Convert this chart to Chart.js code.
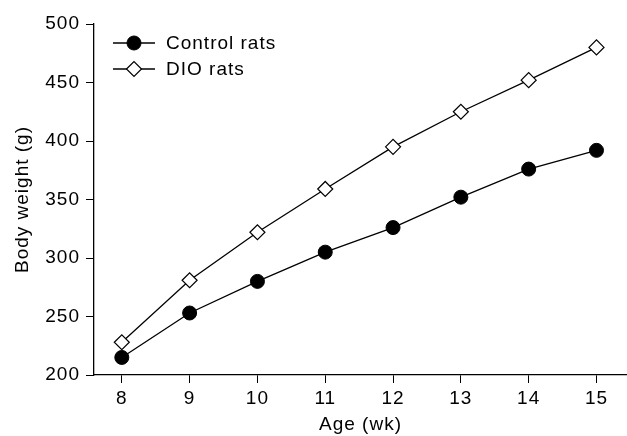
<!DOCTYPE html>
<html>
<head>
<meta charset="utf-8">
<script src="https://cdn.jsdelivr.net/npm/chart.js@4"></script>
<style>
  html, body { margin: 0; padding: 0; background: #fff; }
  #wrap { width: 627px; height: 436px; }
</style>
</head>
<body>
<div id="wrap"><canvas id="chart" width="627" height="436"></canvas></div>
<script>
// data
const ages = [8, 9, 10, 11, 12, 13, 14, 15];
const controlWeights = [215, 253, 280, 305, 326, 352, 376, 392];
const dioWeights = [228, 281, 322, 359, 395, 425, 452, 480];
const yTicks = [200, 250, 300, 350, 400, 450, 500];

const FONT = 'Liberation Sans, Arial, sans-serif';
const FS = 19;
const SPACING = '1px';

// the figure's lettering is a bit looser than Arial
const looseText = {
    id: 'looseText',
    beforeUpdate(chart) { chart.ctx.letterSpacing = SPACING; },
    beforeDraw(chart) { chart.ctx.letterSpacing = SPACING; }
};

// legend drawn inside the plot, top left
const insideLegend = {
    id: 'insideLegend',
    afterDraw(chart) {
        const ctx = chart.ctx;
        const x0 = chart.chartArea.left + 19;
        let y = chart.chartArea.top + 19;
        chart.data.datasets.forEach(ds => {
            ctx.save();
            ctx.strokeStyle = '#000';
            ctx.lineWidth = 1.3;
            ctx.beginPath();
            ctx.moveTo(x0, y);
            ctx.lineTo(x0 + 42, y);
            ctx.stroke();
            ctx.fillStyle = ds.pointBackgroundColor;
            ctx.lineWidth = ds.pointBorderWidth;
            Chart.helpers.drawPoint(ctx, {
                pointStyle: ds.pointStyle,
                radius: ds.pointRadius,
                borderWidth: ds.pointBorderWidth
            }, x0 + 21, y);
            ctx.fillStyle = '#000';
            ctx.font = FS + 'px ' + FONT;
            ctx.letterSpacing = SPACING;
            ctx.textBaseline = 'middle';
            ctx.fillText(ds.label, x0 + 53, y + 1);
            ctx.restore();
            y += 26;
        });
    }
};

new Chart(document.getElementById('chart'), {
    type: 'line',
    data: {
        datasets: [
            {
                label: 'Control rats',
                data: ages.map((a, i) => ({ x: a, y: controlWeights[i] })),
                borderColor: '#000',
                borderWidth: 1.3,
                pointStyle: 'circle',
                pointRadius: 7,
                pointBackgroundColor: '#000',
                pointBorderColor: '#000',
                pointBorderWidth: 1
            },
            {
                label: 'DIO rats',
                data: ages.map((a, i) => ({ x: a, y: dioWeights[i] })),
                borderColor: '#000',
                borderWidth: 1.3,
                pointStyle: 'rectRot',
                pointRadius: 7.5,
                pointBackgroundColor: '#fff',
                pointBorderColor: '#000',
                pointBorderWidth: 1.2
            }
        ]
    },
    options: {
        responsive: false,
        animation: false,
        layout: { autoPadding: false, padding: { top: 24, right: 0, left: 0, bottom: 0 } },
        plugins: { legend: { display: false }, tooltip: { enabled: false } },
        scales: {
            x: {
                type: 'linear',
                min: 7.59,
                max: 15.45,
                afterBuildTicks: s => { s.ticks = ages.map(v => ({ value: v })); },
                afterFit: s => { s.height = 61; s.paddingLeft = 0; s.paddingRight = 0; },
                grid: { drawOnChartArea: false, drawTicks: true, tickLength: 8, color: '#000' },
                border: { color: '#000', width: 1.3 },
                ticks: { color: '#000', font: { family: FONT, size: FS }, padding: 4, maxRotation: 0 },
                title: { display: true, text: 'Age (wk)', color: '#000', font: { family: FONT, size: FS }, padding: { top: 0, bottom: 0 } }
            },
            y: {
                min: 200,
                max: 500,
                afterBuildTicks: s => { s.ticks = yTicks.map(v => ({ value: v })); },
                afterFit: s => { s.width = 94; s.paddingTop = 0; s.paddingBottom = 0; },
                grid: { drawOnChartArea: false, drawTicks: true, tickLength: 8, color: '#000' },
                border: { color: '#000', width: 1.3 },
                ticks: { color: '#000', font: { family: FONT, size: FS }, padding: 6 },
                title: { display: true, text: 'Body weight (g)', color: '#000', font: { family: FONT, size: FS }, padding: { top: 11, bottom: 0 } }
            }
        }
    },
    plugins: [looseText, insideLegend]
});
</script>
</body>
</html>
